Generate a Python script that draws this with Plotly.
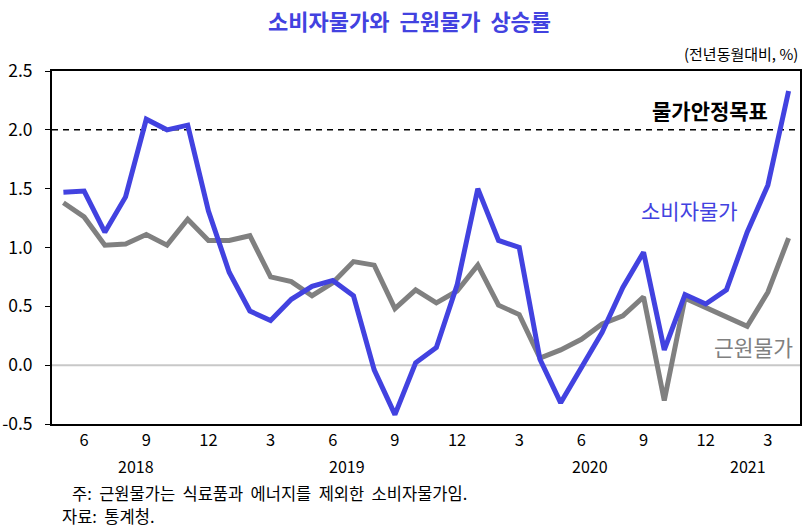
import plotly.graph_objects as go

months = ["2018-05","2018-06","2018-07","2018-08","2018-09","2018-10","2018-11","2018-12",
          "2019-01","2019-02","2019-03","2019-04","2019-05","2019-06","2019-07","2019-08",
          "2019-09","2019-10","2019-11","2019-12","2020-01","2020-02","2020-03","2020-04",
          "2020-05","2020-06","2020-07","2020-08","2020-09","2020-10","2020-11","2020-12",
          "2021-01","2021-02","2021-03","2021-04"]
cpi = [1.47, 1.48, 1.13, 1.43, 2.09, 2.00, 2.04, 1.31,
       0.79, 0.46, 0.38, 0.56, 0.67, 0.72, 0.59, -0.04,
       -0.42, 0.02, 0.15, 0.68, 1.50, 1.06, 1.00, 0.05,
       -0.32, -0.01, 0.28, 0.66, 0.96, 0.13, 0.60, 0.52,
       0.64, 1.13, 1.53, 2.33]
core = [1.38, 1.26, 1.02, 1.03, 1.11, 1.02, 1.24, 1.06,
        1.06, 1.10, 0.75, 0.71, 0.59, 0.70, 0.88, 0.85,
        0.48, 0.64, 0.53, 0.63, 0.85, 0.51, 0.43, 0.06,
        0.13, 0.22, 0.35, 0.42, 0.58, -0.30, 0.57, 0.49,
        0.41, 0.33, 0.62, 1.08]
target = 2.0
month_ticks = ["6","9","12","3","6","9","12","3","6","9","12","3"]
years = ["2018", "2019", "2020", "2021"]
year_pos = [3.5, 13.7, 25.4, 33.05]

x = list(range(len(months)))
tick_idx = [i for i, m in enumerate(months) if int(m[5:]) in (3, 6, 9, 12)]

BLUE = "rgb(66,66,224)"
GRAY = "rgb(128,128,128)"
FONT = "Noto Sans CJK KR"

fig = go.Figure()
fig.add_hline(y=0, line=dict(color="rgb(200,200,200)", width=2), layer="below")
fig.add_hline(y=target, line=dict(color="black", width=1.5, dash="6px,5px"), layer="below")
fig.add_trace(go.Scatter(x=x, y=core, mode="lines", name="근원물가",
                         line=dict(color=GRAY, width=5)))
fig.add_trace(go.Scatter(x=x, y=cpi, mode="lines", name="소비자물가",
                         line=dict(color=BLUE, width=5)))

ann = []
for yr, p in zip(years, year_pos):
    ann.append(dict(x=p, y=0, xref="x", yref="paper", yshift=-42, yanchor="middle",
                    text=yr, showarrow=False,
                    font=dict(size=16, color="black", family=FONT)))
ann += [
    dict(x=0.478, y=1, xref="paper", yref="paper", yshift=51, yanchor="middle",
         text="<b>소비자물가와  근원물가  상승률</b>", showarrow=False,
         font=dict(size=22, color=BLUE, family=FONT)),
    dict(x=1, y=1, xref="paper", yref="paper", xanchor="right", yshift=18, yanchor="middle",
         text="(전년동월대비, %)", showarrow=False, font=dict(size=15, color="black", family=FONT)),
    dict(x=34.1, y=2.17, xref="x", yref="y", xanchor="right", yanchor="middle",
         text="<b>물가안정목표</b>",
         showarrow=False, font=dict(size=21, color="black", family=FONT)),
    dict(x=30.2, y=1.32, xref="x", yref="y", xanchor="center", yanchor="middle", text="소비자물가",
         showarrow=False, font=dict(size=21, color=BLUE, family=FONT)),
    dict(x=33.3, y=0.16, xref="x", yref="y", xanchor="center", yanchor="middle", text="근원물가",
         showarrow=False, font=dict(size=21.5, color=GRAY, family=FONT)),
    dict(x=0.0235, y=0, xref="paper", yref="paper", xanchor="left", yshift=-69, yanchor="middle",
         text="주:  근원물가는  식료품과  에너지를  제외한  소비자물가임.", showarrow=False,
         font=dict(size=16.5, color="black", family=FONT)),
    dict(x=0.011, y=0, xref="paper", yref="paper", xanchor="left", yshift=-92, yanchor="middle",
         text="자료:  통계청.", showarrow=False,
         font=dict(size=16.5, color="black", family=FONT)),
]

fig.update_layout(
    width=811, height=532,
    margin=dict(l=52, r=11, t=71, b=108),
    paper_bgcolor="white", plot_bgcolor="white",
    showlegend=False,
    font=dict(family=FONT, color="black"),
    annotations=ann,
    xaxis=dict(range=[-0.55, 35.55], tickmode="array", tickvals=tick_idx, ticktext=month_ticks,
               automargin=False,
               showgrid=False, zeroline=False, showline=True, linecolor="black", linewidth=2,
               mirror=True, ticks="", tickfont=dict(size=16.5, family=FONT), ticklabelstandoff=0),
    yaxis=dict(range=[-0.5, 2.5], tickmode="array", tickvals=[-0.5, 0, 0.5, 1.0, 1.5, 2.0, 2.5],
               ticktext=["-0.5", "0.0", "0.5", "1.0", "1.5", "2.0", "2.5"],
               automargin=False,
               showgrid=False, zeroline=False, showline=True, linecolor="black", linewidth=2,
               mirror=True, ticks="outside", ticklen=5, tickcolor="black",
               tickfont=dict(size=17.5, family=FONT), ticklabelstandoff=9),
)
fig.write_html("out.html", config={"displayModeBar": False},
               post_script="document.body.style.margin='0';")
